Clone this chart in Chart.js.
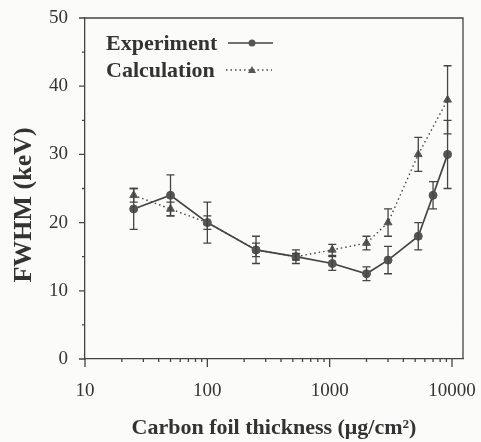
<!DOCTYPE html>
<html>
<head>
<meta charset="utf-8">
<script src="https://cdn.jsdelivr.net/npm/chart.js@4.4.1/dist/chart.umd.min.js"></script>
<style>
  html, body { margin: 0; padding: 0; background: #fbfbfa; }
  #wrap { width: 481px; height: 442px; }
</style>
</head>
<body>
<div id="wrap"><canvas id="c" width="481" height="442"></canvas></div>
<script>
// thickness in ug/cm2, FWHM in keV
const expThickness = [25, 50, 100, 250, 530, 1050, 2000, 3000, 5300, 7000, 9200];
const expFwhm = [22, 24, 20, 16, 15, 14, 12.5, 14.5, 18, 24, 30];
const expErr = [3, 3, 3, 2, 1, 1, 1, 2, 2, 2, 5];

const calcThickness = [25, 50, 100, 250, 530, 1050, 2000, 3000, 5300, 9200];
const calcFwhm = [24, 22, 20, 16, 15, 16, 17, 20, 30, 38];
const calcErr = [1, 1, 1, 1, 0.5, 0.8, 1, 2, 2.5, 5];

const xTickLabels = ["10", "100", "1000", "10000"];
const yTickLabels = ["0", "10", "20", "30", "40", "50"];

const ink = "#444";
const serif = "'Liberation Serif', 'Times New Roman', serif";

function pts(xs, ys) {
  return xs.map((x, i) => ({ x: x, y: ys[i] }));
}

const errorBars = {
  id: "errorBars",
  afterDatasetsDraw(chart) {
    const ctx = chart.ctx;
    const xs = chart.scales.x, ys = chart.scales.y;
    const sets = [[expThickness, expFwhm, expErr], [calcThickness, calcFwhm, calcErr]];
    ctx.save();
    ctx.strokeStyle = ink;
    ctx.lineWidth = 1.3;
    sets.forEach(([tx, fy, er]) => {
      tx.forEach((t, i) => {
        const px = xs.getPixelForValue(t);
        const y1 = ys.getPixelForValue(fy[i] - er[i]);
        const y2 = ys.getPixelForValue(fy[i] + er[i]);
        ctx.beginPath();
        ctx.moveTo(px, y1); ctx.lineTo(px, y2);
        ctx.moveTo(px - 4, y1); ctx.lineTo(px + 4, y1);
        ctx.moveTo(px - 4, y2); ctx.lineTo(px + 4, y2);
        ctx.stroke();
      });
    });
    ctx.restore();
  }
};

const frameAndTicks = {
  id: "frameAndTicks",
  beforeDraw(chart) {
    const ctx = chart.ctx;
    ctx.save();
    ctx.fillStyle = "#fbfbfa";
    ctx.fillRect(0, 0, chart.width, chart.height);
    ctx.restore();
  },
  afterDraw(chart) {
    const ctx = chart.ctx;
    const a = chart.chartArea;
    const xs = chart.scales.x, ys = chart.scales.y;
    ctx.save();
    ctx.strokeStyle = ink;
    ctx.lineWidth = 1.3;
    ctx.beginPath();
    ctx.moveTo(a.left, a.top); ctx.lineTo(a.right, a.top); ctx.lineTo(a.right, a.bottom);
    // y ticks
    ys.ticks.forEach(t => {
      const py = ys.getPixelForValue(t.value);
      const len = t.value % 10 === 0 ? 6 : 3;
      ctx.moveTo(a.left - len, py); ctx.lineTo(a.left, py);
    });
    // x ticks
    xs.ticks.forEach(t => {
      const e = Math.floor(Math.log10(t.value) + 1e-9);
      const m = t.value / Math.pow(10, e);
      if (Math.abs(m - Math.round(m)) > 1e-6) return;
      const px = xs.getPixelForValue(t.value);
      const len = Math.round(m) === 1 ? 8 : 3;
      ctx.moveTo(px, a.bottom); ctx.lineTo(px, a.bottom + len);
    });
    ctx.stroke();

    // y title
    ctx.fillStyle = "#333";
    ctx.font = "bold 26px " + serif;
    ctx.textAlign = "center";
    ctx.textBaseline = "middle";
    ctx.translate(24, 205);
    ctx.rotate(-Math.PI / 2);
    ctx.fillText("FWHM (keV)", 0, 0);
    ctx.restore();

    // legend
    ctx.save();
    ctx.fillStyle = "#333";
    ctx.font = "bold 22px " + serif;
    ctx.textBaseline = "middle";
    ctx.fillText("Experiment", 106, 44);
    ctx.fillText("Calculation", 106, 71);
    ctx.strokeStyle = ink;
    ctx.lineWidth = 1.6;
    ctx.beginPath(); ctx.moveTo(228, 43); ctx.lineTo(273, 43); ctx.stroke();
    ctx.lineWidth = 1.3;
    ctx.setLineDash([1.5, 3]);
    ctx.beginPath(); ctx.moveTo(226, 70); ctx.lineTo(272, 70); ctx.stroke();
    ctx.setLineDash([]);
    ctx.fillStyle = "#555";
    ctx.beginPath(); ctx.arc(252, 43, 3.5, 0, Math.PI * 2); ctx.fill();
    ctx.beginPath(); ctx.moveTo(252, 66); ctx.lineTo(256, 73); ctx.lineTo(248, 73); ctx.closePath(); ctx.fill();
    ctx.restore();
  }
};

new Chart(document.getElementById("c"), {
  type: "line",
  data: {
    datasets: [
      {
        label: "Experiment",
        data: pts(expThickness, expFwhm),
        borderColor: ink,
        borderWidth: 1.7,
        pointRadius: 4,
        pointBackgroundColor: "#555",
        pointBorderColor: "#555",
        pointBorderWidth: 1,
        tension: 0
      },
      {
        label: "Calculation",
        data: pts(calcThickness, calcFwhm),
        borderColor: ink,
        borderWidth: 1.4,
        borderDash: [1.5, 3],
        pointStyle: "triangle",
        pointRadius: 4.5,
        pointBackgroundColor: "#555",
        pointBorderColor: "#555",
        pointBorderWidth: 1,
        tension: 0
      }
    ]
  },
  options: {
    responsive: false,
    animation: false,
    layout: { padding: { top: 18, right: 18, left: 0, bottom: 0 } },
    scales: {
      x: {
        type: "logarithmic",
        min: 10,
        max: 12300,
        grid: { display: false, drawTicks: false, tickLength: 0 },
        border: { display: true, color: ink, width: 1.3 },
        ticks: {
          autoSkip: false,
          maxRotation: 0,
          padding: 21,
          color: "#333",
          font: { family: serif, size: 19 },
          callback: (v) => xTickLabels.includes(String(v)) ? String(v) : ""
        },
        title: {
          display: true,
          text: "Carbon foil thickness (\u03bcg/cm\u00b2)",
          color: "#333",
          font: { family: serif, size: 22, weight: "bold" },
          padding: { top: 0, bottom: 0 }
        },
        afterFit: (s) => { s.height = 83; s.paddingLeft = 0; s.paddingRight = 0; }
      },
      y: {
        min: 0,
        max: 50,
        grid: { display: false, drawTicks: false, tickLength: 0 },
        border: { display: true, color: ink, width: 1.3 },
        ticks: {
          stepSize: 5,
          padding: 17,
          color: "#333",
          font: { family: serif, size: 19 },
          callback: (v) => yTickLabels.includes(String(v)) ? String(v) : ""
        },
        afterFit: (s) => { s.width = 85; s.paddingTop = 0; s.paddingBottom = 0; }
      }
    },
    plugins: {
      legend: { display: false },
      tooltip: { enabled: false }
    }
  },
  plugins: [errorBars, frameAndTicks]
});
</script>
</body>
</html>
